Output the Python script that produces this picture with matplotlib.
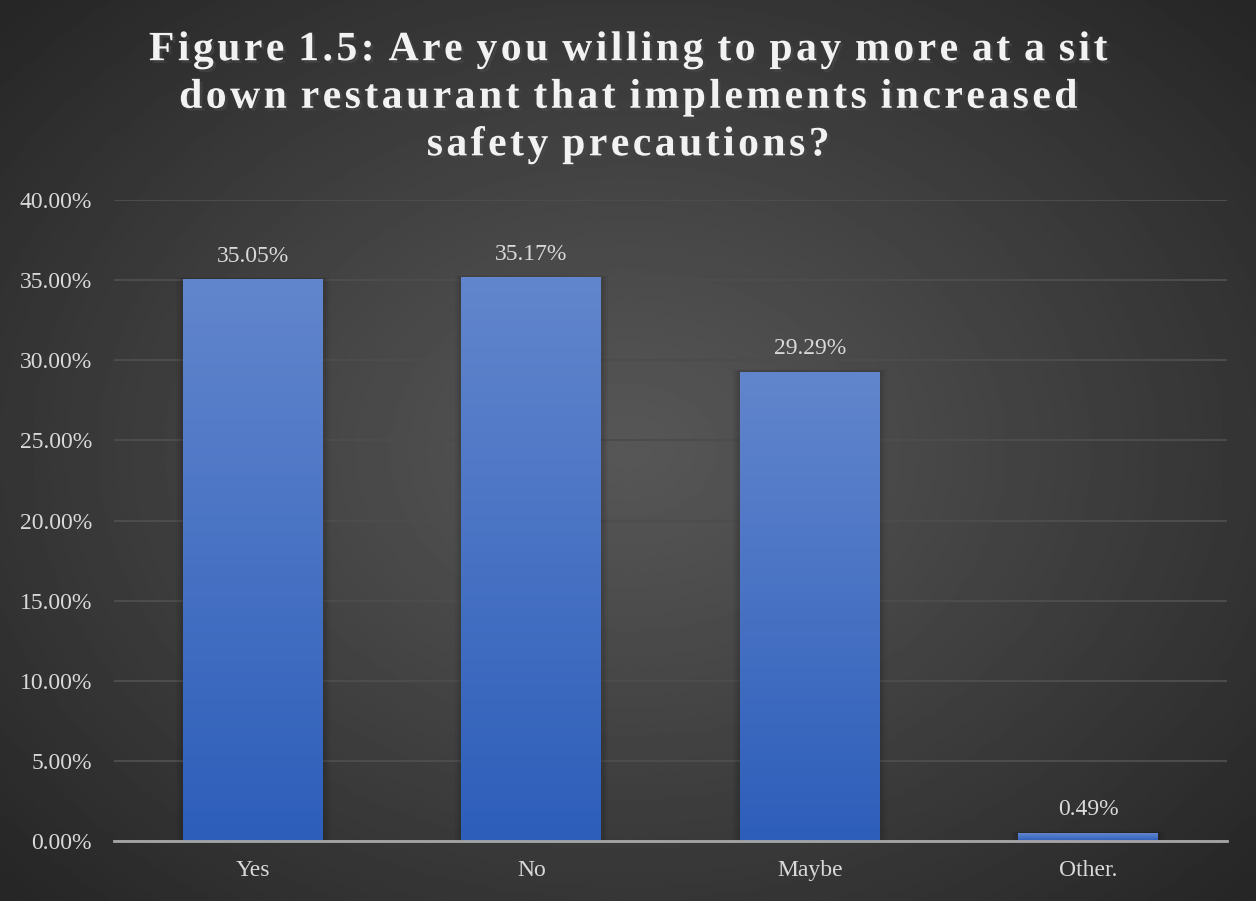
import matplotlib.pyplot as plt
import matplotlib.patheffects as pe
import numpy as np
from matplotlib.ticker import PercentFormatter

# Survey answers (percent of respondents)
categories = ['Yes', 'No', 'Maybe', 'Other.']
values = [35.05, 35.17, 29.29, 0.49]
title_lines = ['Figure 1.5: Are you willing to pay more at a sit',
               'down restaurant that implements increased',
               'safety precautions?']

plt.rcParams['font.family'] = ['Liberation Serif', 'DejaVu Serif']

fig = plt.figure(figsize=(12.56, 9.01), dpi=100)

# radial dark-grey backdrop
bg = fig.add_axes([0, 0, 1, 1], zorder=-10)
yy, xx = np.mgrid[-1:1:400j, -1:1:560j]
r = np.sqrt(xx ** 2 + (yy * 0.95) ** 2)
shade = 0.34 - 0.19 * np.clip(r / 1.35, 0, 1) ** 1.1
bg.imshow(shade, cmap='gray', vmin=0, vmax=1, aspect='auto',
          extent=[0, 1, 0, 1], interpolation='bilinear')
bg.set_axis_off()

ax = fig.add_axes([0.0908, 0.0666, 0.8862, 0.7114])
ax.patch.set_alpha(0)

x = np.arange(len(categories))
bars = ax.bar(x, values, width=0.503, color='none', zorder=3)

# vertical blue gradient inside each bar
grad = np.linspace(0, 1, 256)[:, None, None]
top = np.array([0x62, 0x86, 0xcd]) / 255
bot = np.array([0x2d, 0x5e, 0xba]) / 255
img = bot + (top - bot) * grad
for b in bars:
    x0, w, h = b.get_x(), b.get_width(), b.get_height()
    # soft shadow behind the bar
    for k, a in zip([0.025, 0.017, 0.009], [0.04, 0.05, 0.06]):
        ax.add_patch(plt.Rectangle((x0 - k, 0), w + 2 * k, h + k * 6,
                                   color='black', alpha=a, lw=0, zorder=2))
    im = ax.imshow(img, origin='lower', extent=[x0, x0 + w, 0, h],
                   aspect='auto', zorder=3)
    im.set_clip_path(b)
    ax.text(x0 + w / 2, h + 0.8, f'{h:.2f}%', ha='center', va='bottom',
            color='#d9d9d9', fontsize=17, zorder=4)

ax.set_xlim(-0.5, len(categories) - 0.5)
ax.set_ylim(0, 40)
ax.set_yticks(np.arange(0, 41, 5))
ax.yaxis.set_major_formatter(PercentFormatter(decimals=2))
ax.set_xticks(x)
ax.set_xticklabels(categories)
ax.tick_params(colors='#d9d9d9', labelsize=17, length=0)
ax.tick_params(axis='x', pad=14)
ax.tick_params(axis='y', pad=16)
ax.grid(axis='y', color='#4c4c4c', lw=1.5, zorder=0)
for s in ['top', 'right', 'left']:
    ax.spines[s].set_visible(False)
ax.spines['bottom'].set_color('#a6a6a6')
ax.spines['bottom'].set_linewidth(2)
ax.spines['bottom'].set_zorder(5)


def spread(line):
    # hair space after every letter, one extra at word gaps
    out = line[0]
    for a, c in zip(line, line[1:]):
        out += c if c == ' ' else '\u200a' + c
    return out


fig.text(0.5, 0.8915, '\n'.join(spread(t) for t in title_lines),
         ha='center', va='center', color='#f2f2f2',
         fontsize=30, fontweight='bold', linespacing=1.33,
         path_effects=[pe.withSimplePatchShadow(offset=(2, -2), alpha=0.6)])

fig.savefig('out.png', dpi=100)
